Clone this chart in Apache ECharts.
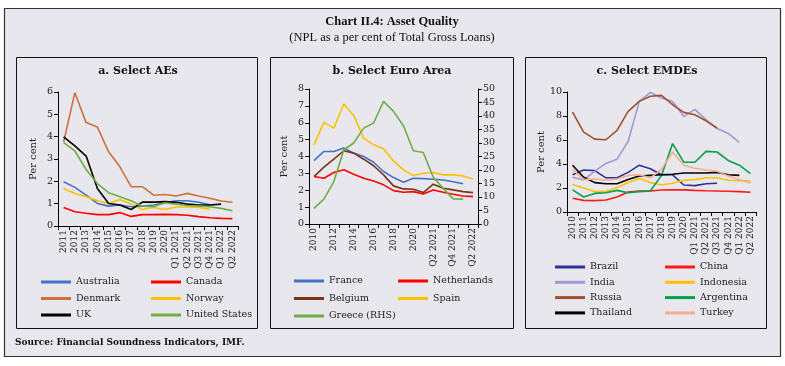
<!DOCTYPE html>
<html><head><meta charset="utf-8">
<script src="https://cdn.jsdelivr.net/npm/echarts@6/dist/echarts.min.js"></script>
<style>html,body{margin:0;padding:0;background:#fff}#c{width:785px;height:366px}</style>
</head><body><div id="c"></div>
<script>
// ---------- categories ----------
const catsA = ['2011','2012','2013','2014','2015','2016','2017','2018','2019','2020','Q1 2021','Q2 2021','Q3 2021','Q4 2021','Q1 2022','Q2 2022'];
const catsB = ['2010','2011','2012','2013','2014','2015','2016','2017','2018','2019','2020','Q1 2021','Q2 2021','Q3 2021','Q4 2021','Q1 2022','Q2 2022'];
const catsC = ['2010','2011','2012','2013','2014','2015','2016','2017','2018','2019','2020','Q1 2021','Q2 2021','Q3 2021','Q4 2021','Q1 2022','Q2 2022'];

// ---------- panel a: Select AEs ----------
const australia = [1.98,1.73,1.38,1.01,0.89,0.94,0.86,0.89,0.94,1.04,1.13,1.13,1.06,0.95];
const canada    = [0.83,0.64,0.57,0.51,0.51,0.60,0.43,0.51,0.51,0.52,0.51,0.48,0.42,0.37,0.34,0.33];
const denmark   = [3.76,5.97,4.63,4.43,3.32,2.65,1.76,1.76,1.38,1.41,1.34,1.46,1.34,1.24,1.12,1.06];
const norway    = [1.68,1.46,1.31,1.13,1.01,1.19,0.98,0.74,0.83,0.74,0.85,0.85,0.83,0.74];
const uk        = [3.99,3.59,3.13,1.68,1.01,0.94,0.74,1.07,1.07,1.09,1.06,0.98,0.94,0.94,0.98];
const us        = [3.73,3.36,2.53,1.90,1.49,1.31,1.13,0.89,0.86,1.04,0.98,0.92,0.89,0.86,0.79,0.68];

// ---------- panel b: Select Euro Area ----------
const france      = [3.76,4.30,4.30,4.50,4.20,4.00,3.66,3.11,2.75,2.48,2.71,2.69,2.65,2.61,2.50,2.38];
const netherlands = [2.81,2.71,3.05,3.21,2.95,2.71,2.55,2.32,1.98,1.88,1.92,1.78,2.02,1.88,1.76,1.66,1.62];
const belgium     = [2.81,3.37,3.84,4.34,4.20,3.84,3.45,2.91,2.26,2.08,2.06,1.86,2.36,2.12,2.02,1.92,1.86];
const spain       = [4.69,6.02,5.68,7.11,6.42,5.09,4.69,4.46,3.74,3.21,2.87,3.01,3.05,2.91,2.91,2.85,2.67];
const greece      = [5.8,9.2,15.7,27.5,30.0,35.5,37.4,45.4,41.7,36.4,27.1,26.5,17.3,13.2,9.3,9.2];

// ---------- panel c: Select EMDEs ----------
const brazil    = [3.1,3.5,3.45,2.85,2.85,3.3,3.9,3.6,3.1,3.1,2.25,2.2,2.35,2.4];
const china     = [1.15,0.97,0.95,1.0,1.25,1.67,1.75,1.75,1.83,1.86,1.84,1.8,1.77,1.75,1.73,1.7,1.65];
const india     = [2.9,2.67,3.4,4.05,4.4,5.88,9.22,9.97,9.5,9.2,7.95,8.55,7.7,6.95,6.55,5.8];
const indonesia = [2.3,2.0,1.7,1.7,2.05,2.45,2.8,2.45,2.25,2.4,2.65,2.7,2.85,2.85,2.65,2.6,2.6];
const russia    = [8.33,6.66,6.07,6.02,6.8,8.38,9.22,9.65,9.72,8.94,8.3,8.1,7.6,7.0];
const argentina = [1.85,1.25,1.55,1.6,1.8,1.6,1.7,1.75,3.05,5.7,4.15,4.15,5.05,5.0,4.3,3.9,3.2];
const thailand  = [3.9,2.9,2.45,2.35,2.35,2.7,3.0,3.05,3.1,3.15,3.25,3.25,3.25,3.3,3.1,3.05];
const turkey    = [3.55,2.7,2.75,2.65,2.75,3.05,3.1,2.85,3.55,5.0,3.9,3.65,3.5,3.4,3.0,2.7,2.4];

const FONT = 'DejaVu Serif';
const TXT = '#222';

function xAxis(gi, cats, labelInterval){
  return {type:'category', gridIndex:gi, data:cats, boundaryGap:true,
    axisLine:{show:true,lineStyle:{color:'#000',width:1}},
    axisTick:{show:true,interval:0,length:4,lineStyle:{color:'#000'}},
    axisLabel:{rotate:90,interval:labelInterval,fontSize:9,fontFamily:FONT,color:TXT,margin:4},
    splitLine:{show:false}};
}
function yAxis(gi, max, interval, pos, name){
  return {type:'value', gridIndex:gi, min:0, max:max, interval:interval, position:pos,
    name:name||'', nameLocation:'middle', nameRotate:90, nameGap:20,
    nameTextStyle:{fontSize:10,fontFamily:FONT,color:TXT},
    axisLine:{show:true,lineStyle:{color:'#000',width:1}},
    axisTick:{show:true,length:4,lineStyle:{color:'#000'}},
    axisLabel:{fontSize:9.5,fontFamily:FONT,color:TXT,margin:5},
    splitLine:{show:false}};
}
function line(name, data, color, xi, yi){
  return {type:'line', name:name, data:data, xAxisIndex:xi, yAxisIndex:yi,
    symbol:'none', smooth:false, lineStyle:{color:color,width:1.6}, itemStyle:{color:color},
    emphasis:{disabled:true}};
}
function legend(names, left, top, gap){
  return {data:names, orient:'vertical', left:left, top:top, itemGap:gap, padding:0,
    icon:'rect', itemWidth:30, itemHeight:3,
    textStyle:{fontSize:9.5,fontFamily:FONT,color:TXT,lineHeight:12}, selectedMode:false};
}

const C = {
  australia:'#4472c4', canada:'#ff0000', denmark:'#cf6f3c', norway:'#ffc000', uk:'#000000', us:'#70ad47',
  france:'#4472c4', netherlands:'#ff0000', belgium:'#7b3515', spain:'#ffc000', greece:'#70ad47',
  brazil:'#2e3192', china:'#ff1a1a', india:'#9e9ad6', indonesia:'#ffc000', russia:'#a0522d',
  argentina:'#00a14b', thailand:'#000000', turkey:'#f7ad8c'
};

const chart = echarts.init(document.getElementById('c'), null, {renderer:'canvas'});
chart.setOption({
  backgroundColor:'#ffffff',
  animation:false,
  grid:[
    {left:58, top:92, width:180, height:134},
    {left:309, top:89, width:169, height:135},
    {left:567, top:92, width:189, height:120}
  ],
  xAxis:[ xAxis(0,catsA,0), xAxis(1,catsB,1), xAxis(2,catsC,0) ],
  yAxis:[
    yAxis(0,6,1,'left','Per cent'),
    yAxis(1,8,1,'left','Per cent'),
    yAxis(1,50,5,'right',''),
    yAxis(2,10,2,'left','Per cent')
  ],
  legend:[
    legend(['Australia','Denmark','UK'], 41, 276, 4.5),
    legend(['Canada','Norway','United States'], 151, 276, 4.5),
    legend(['France','Belgium','Greece (RHS)'], 294, 275, 5.5),
    legend(['Netherlands','Spain'], 398, 275, 5.5),
    legend(['Brazil','India','Russia','Thailand'], 555, 261, 3.3),
    legend(['China','Indonesia','Argentina','Turkey'], 665, 261, 3.3)
  ],
  series:[
    line('Australia',australia,C.australia,0,0),
    line('Canada',canada,C.canada,0,0),
    line('Denmark',denmark,C.denmark,0,0),
    line('Norway',norway,C.norway,0,0),
    line('UK',uk,C.uk,0,0),
    line('United States',us,C.us,0,0),
    line('France',france,C.france,1,1),
    line('Netherlands',netherlands,C.netherlands,1,1),
    line('Belgium',belgium,C.belgium,1,1),
    line('Spain',spain,C.spain,1,1),
    line('Greece (RHS)',greece,C.greece,1,2),
    line('Brazil',brazil,C.brazil,2,3),
    line('China',china,C.china,2,3),
    line('India',india,C.india,2,3),
    line('Indonesia',indonesia,C.indonesia,2,3),
    line('Russia',russia,C.russia,2,3),
    line('Argentina',argentina,C.argentina,2,3),
    line('Thailand',thailand,C.thailand,2,3),
    line('Turkey',turkey,C.turkey,2,3)
  ],
  graphic:[
    {type:'rect', z:-100, silent:true, shape:{x:4.5,y:8.5,width:776,height:348}, style:{fill:'#e8e7ed',stroke:'#333',lineWidth:1.2}},
    {type:'rect', z:-90, silent:true, shape:{x:16.5,y:57.5,width:241,height:271}, style:{fill:'none',stroke:'#111',lineWidth:1}},
    {type:'rect', z:-90, silent:true, shape:{x:270.5,y:57.5,width:243,height:271}, style:{fill:'none',stroke:'#111',lineWidth:1}},
    {type:'rect', z:-90, silent:true, shape:{x:525.5,y:57.5,width:241,height:271}, style:{fill:'none',stroke:'#111',lineWidth:1}},
    {type:'text', silent:true, x:392, y:22, style:{text:'Chart II.4: Asset Quality', fontFamily:'Liberation Serif', fontWeight:'bold', fontSize:12.5, fill:'#111', align:'center', verticalAlign:'middle'}},
    {type:'text', silent:true, x:392, y:38, style:{text:'(NPL as a per cent of Total Gross Loans)', fontFamily:'Liberation Serif', fontSize:12.5, fill:'#111', align:'center', verticalAlign:'middle'}},
    {type:'text', silent:true, x:138, y:71, style:{text:'a. Select AEs', fontFamily:FONT, fontWeight:'bold', fontSize:11, fill:'#111', align:'center', verticalAlign:'middle'}},
    {type:'text', silent:true, x:392, y:71, style:{text:'b. Select Euro Area', fontFamily:FONT, fontWeight:'bold', fontSize:11, fill:'#111', align:'center', verticalAlign:'middle'}},
    {type:'text', silent:true, x:647, y:71, style:{text:'c. Select EMDEs', fontFamily:FONT, fontWeight:'bold', fontSize:11, fill:'#111', align:'center', verticalAlign:'middle'}},
    {type:'text', silent:true, x:15, y:343, style:{text:'Source: Financial Soundness Indicators, IMF.', fontFamily:FONT, fontWeight:'bold', fontSize:9, fill:'#111', align:'left', verticalAlign:'middle'}}
  ]
});
</script></body></html>
